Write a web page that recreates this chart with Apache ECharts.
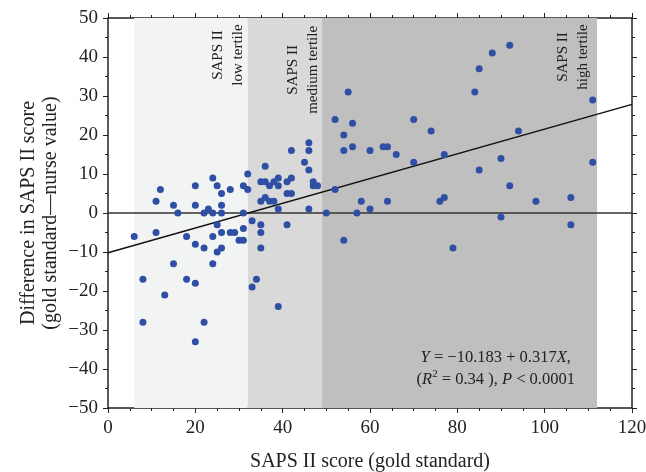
<!DOCTYPE html>
<html><head><meta charset="utf-8">
<script src="https://cdn.jsdelivr.net/npm/echarts@6/dist/echarts.min.js"></script>
<style>html,body{margin:0;padding:0;background:#fff}#c{width:646px;height:472px}</style>
</head><body><div id="c"></div>
<script>
// Data: [SAPS II gold standard, difference]
const points = [
[11,3],[12,6],[15,2],[16,0],[20,7],[20,2],[22,0],[23,1],[24,9],[24,0],[25,7],[26,5],[26,2],[26,0],[28,6],[31,7],[31,0],[32,10],[32,6],[35,8],[35,3],[36,12],[36,8],[36,4],[37,7],[37,3],[38,8],[38,3],[39,9],[39,7],[39,1],[41,8],[41,5],[42,16],[42,9],[42,5],[45,13],[46,18],[46,16],[46,11],[46,1],[47,8],[47,7],[48,7],[50,0],[52,24],[52,6],[54,20],[54,16],[55,31],[56,23],[56,17],[57,0],[58,3],[60,16],[60,1],[63,17],[64,17],[64,3],[66,15],[70,24],[70,13],[74,21],[76,3],[77,4],[77,15],[84,31],[85,37],[85,11],[88,41],[90,14],[90,-1],[92,43],[92,7],[94,21],[98,3],[106,4],[111,29],[111,13],
[79,-9],[106,-3],[6,-6],[8,-17],[8,-28],[11,-5],[13,-21],[15,-13],[18,-6],[18,-17],[20,-8],[20,-18],[20,-33],[22,-9],[22,-28],[24,-6],[24,-13],[25,-3],[25,-10],[26,-5],[26,-9],[28,-5],[29,-5],[30,-7],[31,-7],[31,-4],[33,-2],[33,-19],[34,-17],[35,-3],[35,-5],[35,-9],[39,-24],[41,-3],[54,-7]
];
const tertiles = [
  {name:'SAPS II\nlow tertile', from:6, to:32, color:'#f2f3f3', labelX:27.6, labelY:40.5},
  {name:'SAPS II\nmedium tertile', from:32, to:49, color:'#d9d9d9', labelX:44.6, labelY:36.7},
  {name:'SAPS II\nhigh tertile', from:49, to:112, color:'#bfbfbf', labelX:106.4, labelY:40}
];
const intercept = -10.183, slope = 0.317;
const regX = [0, 120];
const xTicks = [0,20,40,60,80,100,120];
const yTicks = [-50,-40,-30,-20,-10,0,10,20,30,40,50];

const FONT = '"Liberation Serif","DejaVu Serif",serif';
const axisLine = {show:true, onZero:false, lineStyle:{color:'#222', width:1.5}};
const chart = echarts.init(document.getElementById('c'));
const baseX = {type:'value', min:0, max:120, interval:20, axisLine, splitLine:{show:false},
  axisTick:{show:true, length:5, lineStyle:{color:'#222'}}, minorTick:{show:true, splitNumber:4, length:3, lineStyle:{color:'#222'}}};
const baseY = {type:'value', min:-50, max:50, interval:10, axisLine, splitLine:{show:false},
  axisTick:{show:true, length:5, lineStyle:{color:'#222'}}, minorTick:{show:true, splitNumber:2, length:3, lineStyle:{color:'#222'}}};
chart.setOption({
  animation:false,
  grid:{left:108, right:14, top:18, bottom:64, containLabel:false, outerBoundsMode:'none'},
  xAxis:[
    Object.assign({}, baseX, {position:'bottom', name:'SAPS II score (gold standard)', nameLocation:'middle', nameGap:44,
      nameTextStyle:{fontFamily:FONT, fontSize:20, color:'#222'},
      axisLabel:{fontFamily:FONT, fontSize:19, color:'#222', margin:11}}),
    Object.assign({}, baseX, {position:'top', axisLabel:{show:false}})
  ],
  yAxis:[
    Object.assign({}, baseY, {position:'left', name:'Difference in SAPS II score\n(gold standard\u2014nurse value)', nameLocation:'middle', nameGap:46, nameMoveOverlap:false,
      nameTextStyle:{fontFamily:FONT, fontSize:20, color:'#222', lineHeight:22},
      axisLabel:{fontFamily:FONT, fontSize:19, color:'#222', margin:10, formatter:v=>String(v).replace('-','\u2212')}}),
    Object.assign({}, baseY, {position:'right', axisLabel:{show:false}})
  ],
  series:[
    {type:'line', data:[], silent:true,
      markArea:{silent:true, data: tertiles.map(t=>[{xAxis:t.from, yAxis:-50, itemStyle:{color:t.color}},{xAxis:t.to, yAxis:50}])}},
    {type:'line', data:[[0,0],[120,0]], symbol:'none', lineStyle:{color:'#333', width:1.5}, silent:true, z:3},
    {type:'line', data: regX.map(x=>[x, intercept+slope*x]), symbol:'none', lineStyle:{color:'#111', width:1.5}, silent:true, z:3},
    {type:'scatter', data:points, symbolSize:7, itemStyle:{color:'#2f4fa5', opacity:1}, z:4}
  ]
});
const graphics = tertiles.map(t=>{
  const p = chart.convertToPixel({xAxisIndex:0, yAxisIndex:0}, [t.labelX, t.labelY]);
  return {type:'text', x:p[0], y:p[1], rotation:Math.PI/2, z:10,
    style:{text:t.name, fontFamily:FONT, fontSize:15, lineHeight:20, fill:'#222', align:'center', verticalAlign:'middle'}};
});
const ep = chart.convertToPixel({xAxisIndex:0, yAxisIndex:0}, [88.8, -39.8]);
graphics.push({type:'text', x:ep[0], y:ep[1], z:10,
  style:{text:'{i|Y} = \u221210.183 + 0.317{i|X},\n({i|R}{s|2} = 0.34 ), {i|P} < 0.0001', fontFamily:FONT, fontSize:16.5, lineHeight:22, fill:'#222', align:'center', verticalAlign:'middle',
    rich:{i:{fontFamily:FONT, fontSize:16.5, fontStyle:'italic', fill:'#222'}, s:{fontFamily:FONT, fontSize:11, verticalAlign:'top', padding:[0,0,8,0], fill:'#222'}}}});
chart.setOption({graphic:graphics});
</script></body></html>
